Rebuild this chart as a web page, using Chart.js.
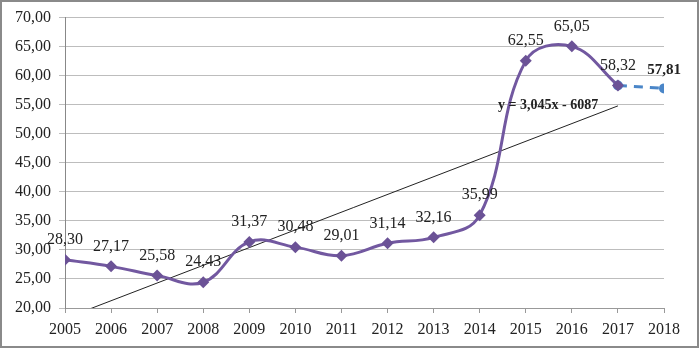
<!DOCTYPE html>
<html>
<head>
<meta charset="utf-8">
<script src="https://cdn.jsdelivr.net/npm/chart.js@4/dist/chart.umd.min.js"></script>
<style>
  html, body { margin: 0; padding: 0; background: #fff; }
  #wrap { width: 699px; height: 348px; position: relative; }
</style>
</head>
<body>
<div id="wrap"><canvas id="trendChart"></canvas></div>
<script>
// values
var years = [2005, 2006, 2007, 2008, 2009, 2010, 2011, 2012, 2013, 2014, 2015, 2016, 2017];
var values = [28.30, 27.17, 25.58, 24.43, 31.37, 30.48, 29.01, 31.14, 32.16, 35.99, 62.55, 65.05, 58.32];
var forecastYears = [2017, 2018];
var forecastValues = [58.32, 57.81];
var trendYears = [2005, 2017];
var trendValues = [18.2, 54.8];
var trendLabel = 'y = 3,045x - 6087';

function toPoints(xs, ys) {
    return xs.map(function (x, i) { return { x: x, y: ys[i] }; });
}

function fmt(v) {
    return v.toFixed(2).replace('.', ',');
}

var serif = "'Liberation Serif', 'DejaVu Serif', serif";

// draws value labels, the trend equation and the outer frame
var labelPlugin = {
    id: 'labels',
    afterDatasetsDraw: function (chart) {
        var ctx = chart.ctx;
        var xs = chart.scales.x, ys = chart.scales.y;
        ctx.save();
        ctx.fillStyle = '#222';
        ctx.textAlign = 'center';
        ctx.textBaseline = 'middle';
        ctx.font = '16px ' + serif;
        values.forEach(function (v, i) {
            ctx.fillText(fmt(v), xs.getPixelForValue(years[i]), ys.getPixelForValue(v) - 20);
        });
        var last = forecastValues.length - 1;
        ctx.font = 'bold 15px ' + serif;
        ctx.fillText(fmt(forecastValues[last]), xs.getPixelForValue(forecastYears[last]),
            ys.getPixelForValue(forecastValues[last]) - 18);
        ctx.font = 'bold 14px ' + serif;
        ctx.textAlign = 'left';
        ctx.fillText(trendLabel, xs.getPixelForValue(2014.4), ys.getPixelForValue(54.9));
        ctx.restore();
    },
    afterDraw: function (chart) {
        var ctx = chart.ctx;
        ctx.save();
        ctx.strokeStyle = '#8a8a8a';
        ctx.lineWidth = 2;
        ctx.strokeRect(1, 1, chart.width - 2, chart.height - 2);
        ctx.restore();
    }
};

function renderChart() {
    var ctx = document.getElementById('trendChart').getContext('2d');

    new Chart(ctx, {
        type: 'line',
        data: {
            datasets: [{
                label: 'values',
                data: toPoints(years, values),
                borderColor: '#7258a0',
                backgroundColor: '#6b5296',
                borderWidth: 3,
                tension: 0.4,
                pointStyle: 'rectRot',
                pointRadius: 6,
                pointBorderWidth: 0,
                order: 1
            }, {
                label: 'forecast',
                data: toPoints(forecastYears, forecastValues),
                borderColor: '#4a86c8',
                backgroundColor: '#4a86c8',
                borderWidth: 3,
                borderDash: [9, 7],
                pointStyle: 'circle',
                pointRadius: 5,
                pointBorderWidth: 0,
                order: 2
            }, {
                label: 'trend',
                data: toPoints(trendYears, trendValues),
                borderColor: '#222',
                borderWidth: 1,
                pointRadius: 0,
                order: 3
            }]
        },
        options: {
            responsive: true,
            maintainAspectRatio: false,
            animation: false,
            layout: {
                padding: { top: 9, right: 35, bottom: 0, left: 0 }
            },
            plugins: {
                legend: { display: false },
                title: { display: false },
                tooltip: { enabled: false }
            },
            scales: {
                x: {
                    type: 'linear',
                    min: 2005,
                    max: 2018,
                    afterFit: function (axis) { axis.height = 40; },
                    ticks: {
                        stepSize: 1,
                        color: '#222',
                        font: { family: serif, size: 16 },
                        padding: 7,
                        maxRotation: 0,
                        callback: function (v) { return String(v); }
                    },
                    grid: {
                        drawOnChartArea: false,
                        drawTicks: true,
                        tickLength: 5,
                        color: '#999'
                    },
                    border: { color: '#999', width: 1 }
                },
                y: {
                    min: 20,
                    max: 70,
                    afterFit: function (axis) { axis.width = 65; },
                    ticks: {
                        stepSize: 5,
                        color: '#222',
                        font: { family: serif, size: 16 },
                        padding: 8,
                        callback: function (v) { return fmt(v); }
                    },
                    grid: {
                        color: '#bdbdbd',
                        tickLength: 6
                    },
                    border: { color: '#888', width: 1 }
                }
            }
        },
        plugins: [labelPlugin]
    });
}

document.addEventListener('DOMContentLoaded', renderChart);
</script>
</body>
</html>
